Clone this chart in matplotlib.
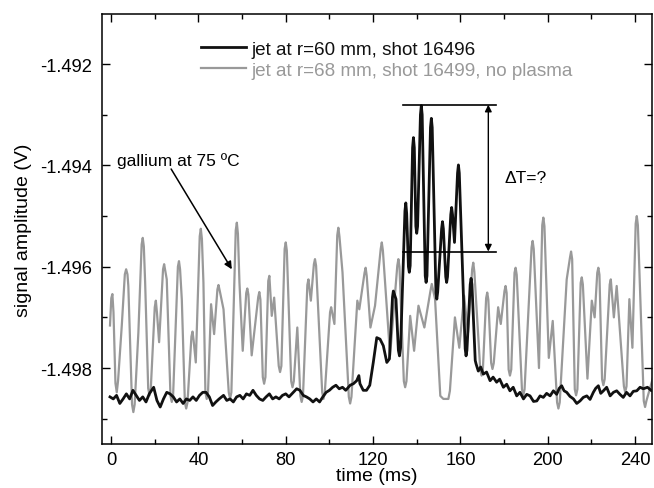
import matplotlib
matplotlib.use("Agg")
import matplotlib.pyplot as plt
from matplotlib.ticker import MultipleLocator, FormatStrFormatter

plt.rcParams['font.family'] = ['Liberation Sans', 'DejaVu Sans']
plt.rcParams['axes.unicode_minus'] = False

# ---- data: jet at r=60 mm, shot 16496 (black) ----
black_t = [-0.5, 1.0, 2.5, 4.0, 5.5, 7.0, 8.5, 10.0, 11.5, 13.0, 14.5, 16.0, 17.5, 19.5,
           21.0, 22.5, 24.0, 25.5, 27.0, 28.5, 30.0, 31.5, 33.0, 34.5, 36.0, 37.5, 39.0,
           40.5, 42.0, 43.5, 45.0, 46.5, 48.0, 49.5, 51.5, 53.0, 54.5, 56.0, 57.5, 59.0,
           60.5, 62.0, 63.5, 65.0, 66.5, 68.0, 69.5, 71.0, 72.5, 74.0, 75.5, 77.0, 78.5,
           80.0, 81.5, 83.5, 85.0, 86.5, 88.0, 89.5, 91.0, 92.5, 94.0, 95.5, 97.0, 98.5,
           100.0, 101.5, 103.0, 104.5, 106.0, 107.5, 109.5, 111.0, 112.5, 113.5, 114.0,
           115.5, 117.0, 118.5,
           120.1, 121.7, 123.2, 124.7, 126.3, 127.5, 128.9, 129.3,
           130.5, 131.6, 132.1, 132.6, 133.8, 134.6, 135.0, 135.4,
           136.2, 136.6, 137.0, 138.1, 138.5, 138.9, 139.6, 140.0,
           140.4, 141.7, 142.1, 142.5, 143.9, 144.3, 144.7, 146.3,
           146.7, 147.1, 148.8, 149.2, 149.6, 151.4, 151.8, 152.2,
           153.3, 153.7, 154.1, 155.6, 156.0, 156.4, 157.3, 158.7,
           159.1, 159.5, 162.2, 162.6, 163.0, 164.5, 164.9, 165.3,
           166.8, 167.2, 168.2,
           169.3, 170.5, 172.0, 173.6, 175.0, 176.6, 178.0, 179.7, 181.2, 182.7, 184.2,
           185.8, 187.3, 188.9, 190.4, 191.9, 193.5, 195.0, 196.5, 198.0, 199.5, 201.1,
           202.6, 204.1, 205.3, 206.4, 207.5, 208.7, 210.2, 211.8, 213.3, 214.8, 216.3,
           217.9, 219.4, 220.9, 222.0, 223.2, 224.3, 225.5, 227.0, 228.6, 230.1, 231.6,
           233.1, 234.6, 236.1, 237.7, 239.2, 240.8, 242.3, 243.8, 245.7, 247.6, 249.0]
black_v = [-1.49857, -1.49861, -1.49854, -1.49870, -1.49861, -1.49851, -1.49861, -1.49844,
           -1.49854, -1.49864, -1.49857, -1.49867, -1.49851, -1.49838, -1.49864, -1.49877,
           -1.49861, -1.49848, -1.49851, -1.49857, -1.49867, -1.49861, -1.49870, -1.49861,
           -1.49864, -1.49857, -1.49864, -1.49854, -1.49848, -1.49848, -1.49857, -1.49874,
           -1.49867, -1.49861, -1.49854, -1.49864, -1.49861, -1.49867, -1.49857, -1.49854,
           -1.49861, -1.49851, -1.49854, -1.49844, -1.49854, -1.49861, -1.49864, -1.49857,
           -1.49851, -1.49861, -1.49857, -1.49861, -1.49854, -1.49851, -1.49857, -1.49848,
           -1.49841, -1.49844, -1.49854, -1.49857, -1.49861, -1.49867, -1.49861, -1.49867,
           -1.49857, -1.49848, -1.49844, -1.49838, -1.49834, -1.49841, -1.49838, -1.49844,
           -1.49834, -1.49831, -1.49825, -1.49815, -1.49831, -1.49844, -1.49844, -1.49834,
           -1.49789, -1.49740, -1.49743, -1.49756, -1.49789, -1.49782, -1.49660, -1.49648,
           -1.49664, -1.49765, -1.49776, -1.49760, -1.49600, -1.49490, -1.49474, -1.49495,
           -1.49600, -1.49611, -1.49598, -1.49365, -1.49345, -1.49365, -1.49520, -1.49534,
           -1.49520, -1.49300, -1.49282, -1.49300, -1.49618, -1.49631, -1.49618, -1.49325,
           -1.49307, -1.49325, -1.49650, -1.49664, -1.49650, -1.49525, -1.49511, -1.49525,
           -1.49620, -1.49631, -1.49620, -1.49497, -1.49483, -1.49497, -1.49552, -1.49415,
           -1.49399, -1.49415, -1.49762, -1.49776, -1.49765, -1.49635, -1.49623, -1.49635,
           -1.49785, -1.49792, -1.49806,
           -1.49798, -1.49812, -1.49808, -1.49825, -1.49818, -1.49828, -1.49822, -1.49838,
           -1.49832, -1.49845, -1.49838, -1.49855, -1.49848, -1.49861, -1.49852, -1.49855,
           -1.49866, -1.49865, -1.49855, -1.49858, -1.49850, -1.49855, -1.49845, -1.49852,
           -1.49840, -1.49835, -1.49845, -1.49848, -1.49856, -1.49861, -1.49870, -1.49865,
           -1.49858, -1.49855, -1.49862, -1.49848, -1.49840, -1.49835, -1.49850, -1.49845,
           -1.49838, -1.49855, -1.49848, -1.49845, -1.49852, -1.49858, -1.49848, -1.49855,
           -1.49846, -1.49845, -1.49838, -1.49841, -1.49838, -1.49845, -1.49840]

# ---- data: jet at r=68 mm, shot 16499, no plasma (gray) ----
gray_t = [-0.5, 0.1, 0.6, 1.1, 2.0, 2.6, 3.2, 4.9,
          6.3, 6.9, 7.5, 7.9, 9.6, 10.2, 10.8, 12.5,
          14.0, 14.5, 15.0, 15.6, 17.0, 17.6, 18.2, 20.0,
          20.5, 21.0, 22.0, 23.8, 24.3, 25.5, 27.2, 27.8,
          28.4, 30.6, 31.1, 31.6, 32.4, 33.8, 34.4, 35.0,
          36.8, 37.3, 37.8, 38.8, 40.6, 41.1, 41.6, 42.3,
          43.2, 43.8, 44.4, 45.8, 47.2, 48.7, 49.2, 49.8,
          51.5, 53.9, 54.5, 55.1, 57.1, 57.6, 58.1, 58.8,
          60.3, 61.9, 62.4, 62.9, 64.4, 67.4, 67.9, 68.4,
          69.5, 70.1, 70.7, 72.0, 72.5, 73.6, 74.7, 76.8,
          77.4, 78.0, 79.5, 80.0, 80.5, 82.5, 83.1, 83.7,
          85.3, 86.7, 87.3, 87.9, 89.9, 90.4, 91.5, 92.9,
          93.4, 93.9, 96.7, 97.3, 97.9, 100.3, 100.8, 102.3,
          103.6, 104.1, 104.6, 106.0, 108.9, 109.5, 110.1, 112.8,
          113.7, 116.1, 116.6, 117.1, 118.8, 120.9, 123.5, 124.0,
          124.5, 127.8, 131.1, 131.6, 132.1, 134.1, 134.7, 135.3,
          137.0, 138.8, 140.8, 143.5, 146.4, 146.9, 148.4, 150.8,
          152.2, 154.5, 155.2, 157.5, 159.5, 161.7, 163.5, 165.4,
          165.9, 166.4, 169.1, 169.7, 170.3, 171.8, 172.3, 172.8,
          174.1, 174.7, 175.3, 177.3, 178.5, 180.2, 180.7, 181.2,
          182.1, 182.7, 183.3, 184.8, 185.3, 185.8, 188.2, 188.8,
          189.4, 192.6, 193.1, 193.6, 196.0, 197.5, 198.0, 198.5,
          200.5, 202.3, 204.3, 204.9, 205.5, 208.7, 210.2, 210.7,
          211.2, 212.4, 213.0, 213.6, 215.1, 215.6, 216.1, 218.2,
          220.2, 221.5, 222.7, 223.2, 223.7, 224.9, 225.5, 226.1,
          228.4, 228.9, 230.3, 231.6, 234.9, 235.5, 236.1, 237.4,
          238.8, 240.3, 240.8, 241.3, 244.0, 244.6, 245.2, 248.5]
gray_v = [-1.49716, -1.49662, -1.49654, -1.49690, -1.49830, -1.49848, -1.49825, -1.49716,
          -1.49615, -1.49605, -1.49615, -1.49638, -1.49872, -1.49887, -1.49872, -1.49730,
          -1.49556, -1.49543, -1.49560, -1.49631, -1.49840, -1.49854, -1.49840, -1.49680,
          -1.49667, -1.49690, -1.49749, -1.49605, -1.49595, -1.49625, -1.49855, -1.49867,
          -1.49855, -1.49600, -1.49589, -1.49605, -1.49665, -1.49868, -1.49880, -1.49868,
          -1.49738, -1.49728, -1.49745, -1.49789, -1.49540, -1.49525, -1.49545, -1.49631,
          -1.49848, -1.49861, -1.49848, -1.49674, -1.49733, -1.49645, -1.49636, -1.49648,
          -1.49684, -1.49848, -1.49861, -1.49848, -1.49528, -1.49513, -1.49535, -1.49631,
          -1.49766, -1.49652, -1.49643, -1.49655, -1.49775, -1.49660, -1.49650, -1.49665,
          -1.49818, -1.49831, -1.49818, -1.49628, -1.49618, -1.49697, -1.49661, -1.49796,
          -1.49808, -1.49796, -1.49565, -1.49552, -1.49568, -1.49826, -1.49838, -1.49826,
          -1.49720, -1.49855, -1.49867, -1.49855, -1.49636, -1.49625, -1.49667, -1.49595,
          -1.49585, -1.49598, -1.49848, -1.49861, -1.49848, -1.49690, -1.49680, -1.49713,
          -1.49538, -1.49523, -1.49540, -1.49611, -1.49857, -1.49870, -1.49857, -1.49667,
          -1.49684, -1.49612, -1.49602, -1.49618, -1.49720, -1.49677, -1.49565, -1.49552,
          -1.49568, -1.49775, -1.49598, -1.49585, -1.49600, -1.49826, -1.49838, -1.49826,
          -1.49697, -1.49766, -1.49677, -1.49720, -1.49645, -1.49634, -1.49664, -1.49855,
          -1.49861, -1.49861, -1.49845, -1.49700, -1.49760, -1.49657, -1.49730, -1.49605,
          -1.49592, -1.49610, -1.49803, -1.49815, -1.49803, -1.49662, -1.49651, -1.49665,
          -1.49790, -1.49802, -1.49790, -1.49680, -1.49713, -1.49648, -1.49638, -1.49652,
          -1.49803, -1.49815, -1.49803, -1.49612, -1.49602, -1.49616, -1.49842, -1.49854,
          -1.49842, -1.49562, -1.49549, -1.49565, -1.49800, -1.49518, -1.49503, -1.49520,
          -1.49780, -1.49707, -1.49868, -1.49880, -1.49868, -1.49625, -1.49582, -1.49570,
          -1.49585, -1.49842, -1.49854, -1.49842, -1.49632, -1.49621, -1.49635, -1.49821,
          -1.49667, -1.49700, -1.49612, -1.49602, -1.49616, -1.49822, -1.49834, -1.49822,
          -1.49635, -1.49625, -1.49700, -1.49638, -1.49836, -1.49848, -1.49836, -1.49664,
          -1.49760, -1.49515, -1.49500, -1.49518, -1.49865, -1.49877, -1.49865, -1.49815]

labels = ["jet at r=60 mm, shot 16496", "jet at r=68 mm, shot 16499, no plasma"]

# annotation anchors (data units)
gallium_text = (2.9, -1.49390)
gallium_arrow_from = (27.5, -1.49407)
gallium_arrow_to = (55.3, -1.49605)
dT_left, dT_right, dT_x = 133.6, 176.2, 172.8
dT_top, dT_bottom = -1.49280, -1.49570
dT_text = (180.0, -1.49423)

fig = plt.figure(figsize=(6.54, 4.89), dpi=100)
ax = fig.add_axes([0.1555, 0.09, 0.8422, 0.8793])

ax.plot(gray_t, gray_v, color='#999999', lw=1.6, label=labels[1], zorder=2,
        solid_joinstyle='round')
ax.plot(black_t, black_v, color='#111111', lw=2.0, label=labels[0], zorder=3,
        solid_joinstyle='round')

ax.set_xlim(-4.3, 248.0)
ax.set_ylim(-1.4995, -1.49101)

ax.xaxis.set_major_locator(MultipleLocator(40))
ax.xaxis.set_minor_locator(MultipleLocator(20))
ax.yaxis.set_major_locator(MultipleLocator(0.002))
ax.yaxis.set_minor_locator(MultipleLocator(0.001))
ax.yaxis.set_major_formatter(FormatStrFormatter('%.3f'))
ax.tick_params(which='both', direction='in', top=True, right=True, width=1.0, labelsize=13.2)
ax.tick_params(which='major', length=6)
ax.tick_params(which='minor', length=3.8)
ax.tick_params(axis='y', pad=7)
ax.tick_params(axis='x', pad=5)
for s in ax.spines.values():
    s.set_linewidth(1.1)

ax.set_xlabel('time (ms)', fontsize=14, labelpad=-1)
ax.set_ylabel('signal amplitude (V)', fontsize=14, labelpad=6)

h, l = ax.get_legend_handles_labels()
leg = ax.legend(h[::-1], l[::-1], loc='upper left', bbox_to_anchor=(0.18, 0.938),
                frameon=False, fontsize=13.6, handlelength=2.4, handletextpad=0.27,
                labelspacing=0.2, borderpad=0, borderaxespad=0, labelcolor='linecolor')

ax.text(*gallium_text, 'gallium at 75 ºC', fontsize=12.5, va='center', ha='left')
ax.annotate('', xy=gallium_arrow_to, xytext=gallium_arrow_from,
            arrowprops=dict(arrowstyle='-|>', color='black', lw=1.1,
                            mutation_scale=11, shrinkA=0, shrinkB=0))

ax.plot([dT_left, dT_right], [dT_top, dT_top], color='black', lw=1.2, zorder=4)
ax.plot([dT_left, dT_right], [dT_bottom, dT_bottom], color='black', lw=1.2, zorder=4)
ax.annotate('', xy=(dT_x, dT_top), xytext=(dT_x, dT_bottom),
            arrowprops=dict(arrowstyle='<|-|>', color='black', lw=1.0,
                            mutation_scale=10, shrinkA=0, shrinkB=0))
ax.text(*dT_text, 'ΔT=?', fontsize=12.5, va='center', ha='left')

fig.savefig('out.png', dpi=100)
